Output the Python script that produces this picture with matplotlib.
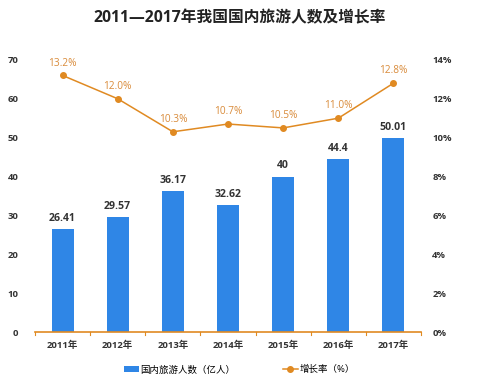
import matplotlib.pyplot as plt
import matplotlib.ticker as mticker

plt.rcParams['font.family'] = ['Open Sans', 'Noto Sans CJK SC', 'DejaVu Sans']

years = ['2011年', '2012年', '2013年', '2014年', '2015年', '2016年', '2017年']
tourists = [26.41, 29.57, 36.17, 32.62, 40, 44.4, 50.01]
tourist_labels = ['26.41', '29.57', '36.17', '32.62', '40', '44.4', '50.01']
growth = [13.2, 12.0, 10.3, 10.7, 10.5, 11.0, 12.8]

blue = '#2F86E6'
orange = '#E08A22'
grey = '#333333'

fig = plt.figure(figsize=(4.79, 3.79), dpi=100)
ax = fig.add_axes([0.073, 0.124, 0.806, 0.718])
x = list(range(len(years)))

ax.bar(x, tourists, width=0.4, color=blue, zorder=2, label='国内旅游人数（亿人）')
for xi, v, s in zip(x, tourists, tourist_labels):
    ax.text(xi, v + 1.3, s, ha='center', va='bottom', fontsize=7.6,
            fontweight='bold', color=grey)

ax.set_ylim(0, 70)
ax.set_yticks(range(0, 71, 10))
ax.set_xlim(-0.5, len(years) - 0.5)
ax.set_xticks(x)
ax.set_xticklabels(years)
ax.tick_params(axis='y', length=0, labelsize=6.8, labelcolor=grey, pad=12)
ax.tick_params(axis='x', length=0, labelsize=6.8, labelcolor=grey, pad=6)
for lbl in ax.get_xticklabels() + ax.get_yticklabels():
    lbl.set_fontweight('bold')
for sp in ['top', 'right', 'left']:
    ax.spines[sp].set_visible(False)
ax.spines['bottom'].set_color(orange)
ax.spines['bottom'].set_linewidth(1.2)
ax.spines['bottom'].set_zorder(3)
# small separators between categories on the baseline
for b in [i - 0.5 for i in range(len(years) + 1)]:
    ax.plot([b, b], [0, -0.8], color=orange, lw=0.8, clip_on=False, zorder=3)

ax2 = ax.twinx()
ax2.plot(x, growth, color=orange, lw=1.1, marker='o', markersize=4, zorder=4,
         label='增长率（%）')
for xi, g in zip(x, growth):
    ax2.text(xi, g + 0.35, f'{g:.1f}%', ha='center', va='bottom', fontsize=7.3,
             color='#D98B3A')
ax2.set_ylim(0, 14)
ax2.set_yticks(range(0, 15, 2))
ax2.yaxis.set_major_formatter(mticker.FuncFormatter(lambda v, p: f'{int(v)}%'))
ax2.tick_params(axis='y', length=0, labelsize=6.8, labelcolor=grey, pad=8)
for lbl in ax2.get_yticklabels():
    lbl.set_fontweight('bold')
for sp in ax2.spines.values():
    sp.set_visible(False)

fig.text(0.5, 0.952, '2011—2017年我国国内旅游人数及增长率', ha='center', va='center',
         fontsize=11.3, fontweight='bold', color='#222222')

h1, l1 = ax.get_legend_handles_labels()
h2, l2 = ax2.get_legend_handles_labels()
fig.legend(h1 + h2, l1 + l2, loc='center', bbox_to_anchor=(0.5, 0.024), ncol=2,
           frameon=False, fontsize=6.8, handlelength=1.6, columnspacing=5,
           handletextpad=0.2)

fig.savefig('out.png', dpi=100)
